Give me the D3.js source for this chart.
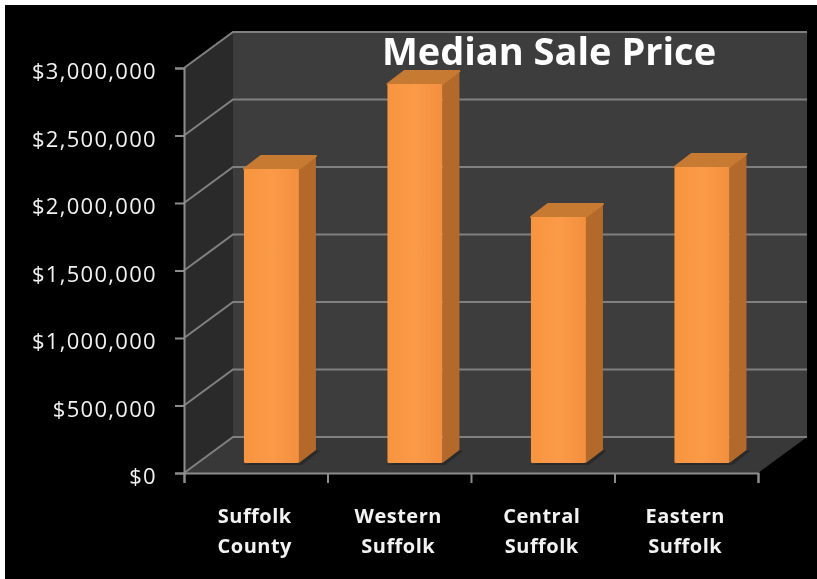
<!DOCTYPE html>
<html>
<head>
<meta charset="utf-8">
<script src="https://cdn.jsdelivr.net/npm/d3@7"></script>
<style>
html, body { margin: 0; padding: 0; background: #000; overflow: hidden; }
svg { display: block; overflow: hidden; }
text { font-family: "Open Sans", Lato, sans-serif; fill: #f2f2f2; }
</style>
</head>
<body>
<svg id="chart" width="817" height="579"></svg>
<script>
let categories = ['Suffolk County', 'Western Suffolk', 'Central Suffolk', 'Eastern Suffolk'];
let medianPrice = [2178000, 2807000, 1822000, 2193000];
let yTicks = [0, 500000, 1000000, 1500000, 2000000, 2500000, 3000000];
let chartTitle = 'Median Sale Price';

let svg = d3.select('#chart');
let pageW = +svg.attr('width');
let pageH = +svg.attr('height');
let depth = {x: 49, y: -36};
let barDepth = {x: 17, y: -13};
let barBase = {x: 15.7, y: -10};
let barWidth = 55;

let xScale = d3.scaleBand().domain(categories).range([184, 758]);
let yScale = d3.scaleLinear().domain([0, 3000000]).range([473, 68]);

let blur = svg.append('defs').append('filter').attr('id', 'soft')
    .attr('filterUnits', 'userSpaceOnUse')
    .attr('x', 0).attr('y', 0).attr('width', pageW).attr('height', pageH);
blur.append('feGaussianBlur').attr('stdDeviation', 0.7);

let grad = svg.select('defs').append('linearGradient').attr('id', 'barFront');
grad.append('stop').attr('offset', '0%').attr('stop-color', '#f79440');
grad.append('stop').attr('offset', '50%').attr('stop-color', '#fb9a47');
grad.append('stop').attr('offset', '100%').attr('stop-color', '#f39040');

let root = svg.append('g').attr('filter', 'url(#soft)');

// white strips on top and left of the picture
root.append('rect').attr('x', 0).attr('y', 0).attr('width', pageW).attr('height', 5).attr('fill', '#fff');
root.append('rect').attr('x', 0).attr('y', 0).attr('width', 5).attr('height', pageH).attr('fill', '#fff');

let x0 = xScale.range()[0], x1 = xScale.range()[1];
let y0 = yScale(0), yTop = yScale(3000000);

// walls and floor
root.append('rect')
    .attr('x', x0 + depth.x).attr('y', yTop + depth.y)
    .attr('width', x1 - x0).attr('height', y0 - yTop)
    .attr('fill', '#3e3e3e');
root.append('path')
    .attr('d', `M${x0},${yTop}L${x0 + depth.x},${yTop + depth.y}L${x0 + depth.x},${y0 + depth.y}L${x0},${y0}Z`)
    .attr('fill', '#2b2b2b');
root.append('path')
    .attr('d', `M${x0},${y0}L${x0 + depth.x},${y0 + depth.y}L${x1 + depth.x},${y0 + depth.y}L${x1},${y0}Z`)
    .attr('fill', '#383838');

// gridlines on the walls
let grid = root.append('g').attr('stroke', '#808080').attr('stroke-width', 2).attr('fill', 'none');
grid.selectAll('path').data(yTicks).enter().append('path')
    .attr('d', d => `M${x0},${yScale(d)}L${x0 + depth.x},${yScale(d) + depth.y}L${x1 + depth.x},${yScale(d) + depth.y}`);

// y axis
let yAxis = d3.axisLeft(yScale).tickValues(yTicks).tickSize(9).tickPadding(18)
    .tickFormat(d => '$' + d3.format(',')(d));
let yAxisG = root.append('g')
    .attr('transform', `translate(${x0}, 0)`)
    .call(yAxis);
yAxisG.selectAll('line, path').attr('stroke', '#8c8c8c').attr('stroke-width', 2);
yAxisG.selectAll('text')
    .attr('font-size', 22)
    .attr('letter-spacing', 1.3)
    .attr('dy', '0.49em')
    .attr('font-family', null)
    .attr('fill', '#f2f2f2');

// x axis, ticks sit on the band edges
let xEdges = d3.scaleLinear().domain([0, categories.length]).range([x0, x1]);
let xAxis = d3.axisBottom(xEdges).tickValues(d3.range(categories.length + 1)).tickSize(10).tickFormat('');
let xAxisG = root.append('g')
    .attr('transform', `translate(0, ${y0})`)
    .call(xAxis);
xAxisG.selectAll('line, path').attr('stroke', '#8c8c8c').attr('stroke-width', 2);

// bars
let barX = d => xScale(d) + (xScale.bandwidth() - barWidth) / 2 + barBase.x;
let barY = d => yScale(d) + barBase.y;
let barBottom = yScale(0) + barBase.y;

let bars = root.selectAll('.bar').data(categories).enter().append('g').attr('class', 'bar');
// shadow on the floor
bars.append('path')
    .attr('d', d => `M${barX(d) - 2},${barBottom + 2}L${barX(d) + barWidth + 3},${barBottom + 2}L${barX(d) + barWidth + barDepth.x + 4},${barBottom + barDepth.y + 1}L${barX(d) + barWidth + barDepth.x},${barBottom + barDepth.y}Z`)
    .attr('fill', '#2c2c2c');
bars.append('path')
    .attr('d', (d, i) => `M${barX(d) + barWidth},${barY(medianPrice[i])}L${barX(d) + barWidth + barDepth.x},${barY(medianPrice[i]) + barDepth.y}L${barX(d) + barWidth + barDepth.x},${barBottom + barDepth.y}L${barX(d) + barWidth},${barBottom}Z`)
    .attr('fill', '#b3692b');
bars.append('path')
    .attr('d', (d, i) => `M${barX(d)},${barY(medianPrice[i])}L${barX(d) + barDepth.x},${barY(medianPrice[i]) + barDepth.y}L${barX(d) + barWidth + barDepth.x},${barY(medianPrice[i]) + barDepth.y}L${barX(d) + barWidth},${barY(medianPrice[i])}Z`)
    .attr('fill', '#c67a32')
    .attr('stroke', '#c67a32')
    .attr('stroke-width', 2)
    .attr('stroke-linejoin', 'round');
bars.append('rect')
    .attr('x', barX)
    .attr('y', (d, i) => barY(medianPrice[i]))
    .attr('width', barWidth)
    .attr('height', (d, i) => barBottom - barY(medianPrice[i]))
    .attr('rx', 1.5)
    .attr('fill', 'url(#barFront)');

// category labels on two lines
let catLabels = root.selectAll('.cat').data(categories).enter().append('text')
    .attr('class', 'cat')
    .attr('text-anchor', 'middle')
    .attr('font-size', 20)
    .attr('font-weight', 700)
    .attr('letter-spacing', 0.5);
catLabels.selectAll('tspan').data(d => d.split(' ').map(w => ({w: w, cat: d}))).enter().append('tspan')
    .attr('x', d => xScale(d.cat) + xScale.bandwidth() / 2 - 1)
    .attr('y', (d, i) => 523 + i * 30)
    .text(d => d.w);

// title
root.append('text')
    .attr('x', 549).attr('y', 65)
    .attr('text-anchor', 'middle')
    .attr('font-size', 38)
    .attr('font-weight', 700)
    .style('fill', '#fff')
    .text(chartTitle);
</script>
</body>
</html>
